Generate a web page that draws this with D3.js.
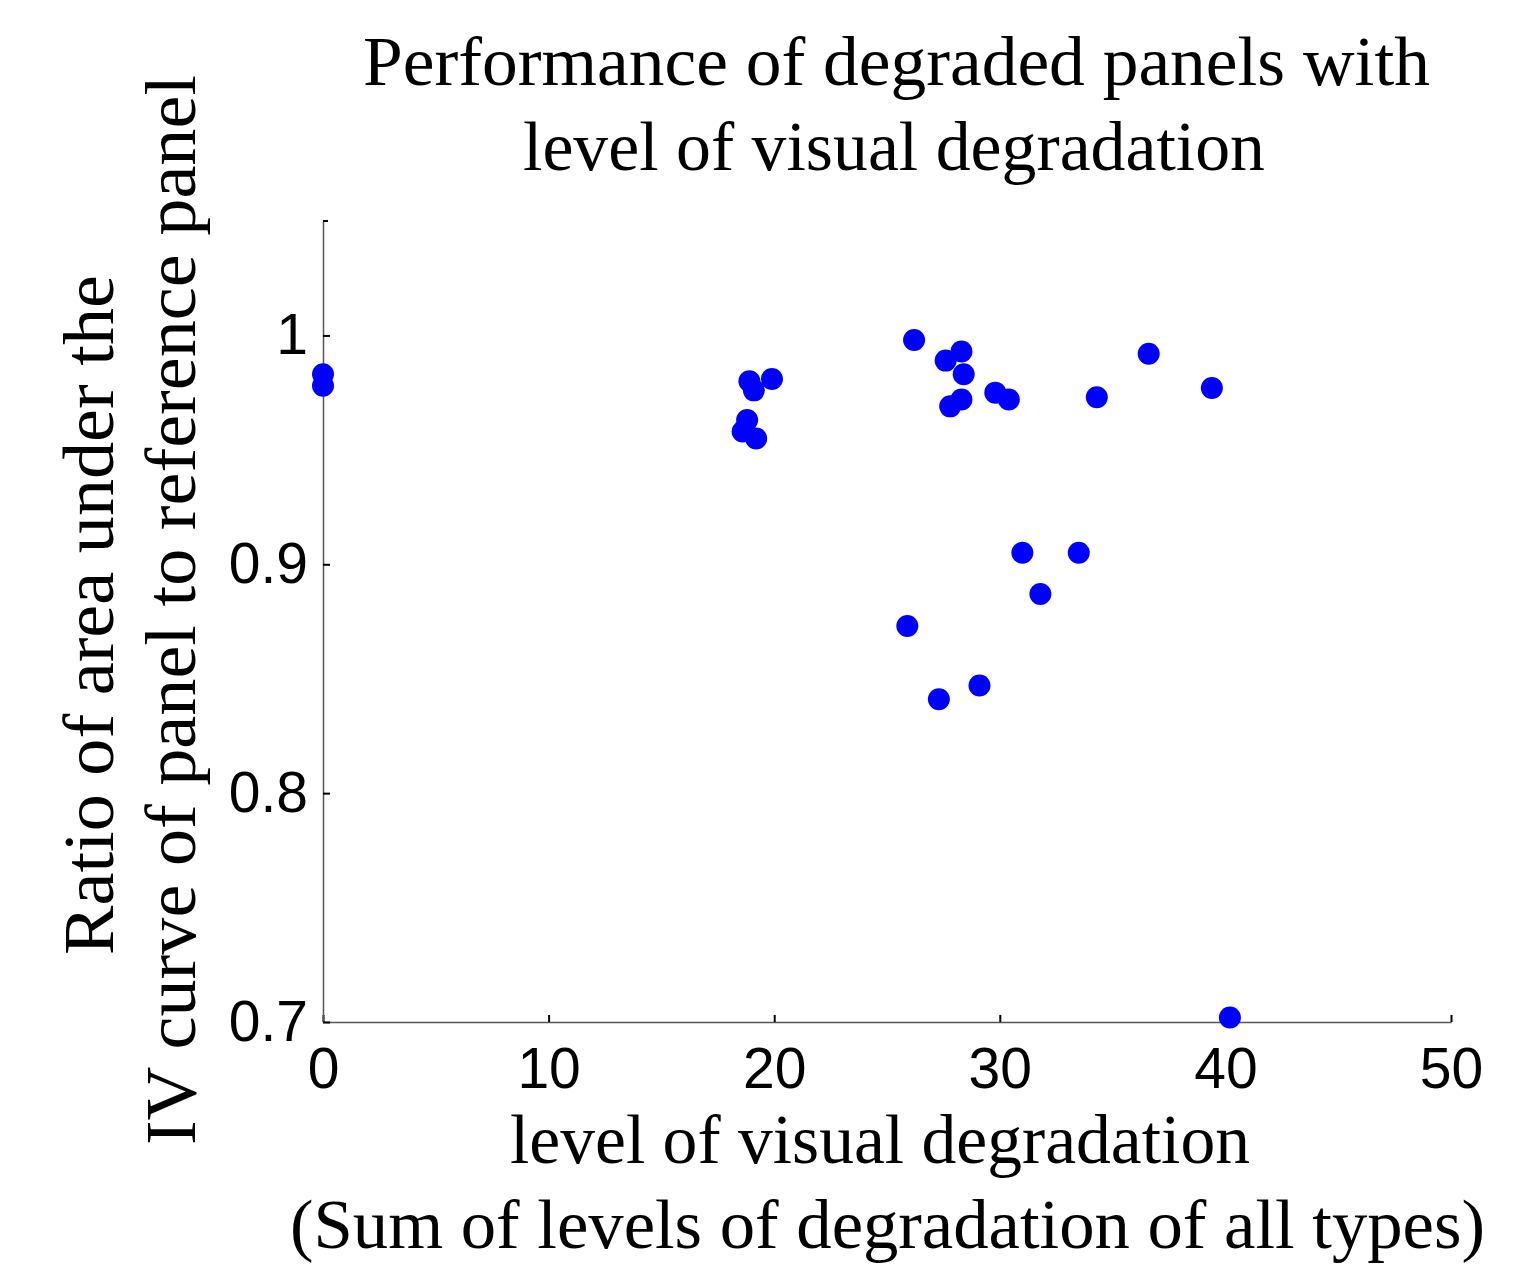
<!DOCTYPE html>
<html>
<head>
<meta charset="utf-8">
<script src="https://cdn.jsdelivr.net/npm/d3@7"></script>
<style>
  html, body { margin: 0; padding: 0; background: #fff; }
  svg { display: block; }
</style>
</head>
<body>
<svg id="chart" width="1540" height="1267"></svg>
<script>
// ---- data ----
const degradationLevel = [0, 0, 18.9, 19.1, 19.9, 18.8, 18.6, 19.2, 26.2, 27.6, 28.3, 28.4, 27.8, 28.3, 29.8, 30.4, 34.3, 36.6, 39.4, 31.0, 33.5, 31.8, 25.9, 27.3, 29.1, 40.2];
const areaRatio       = [0.983, 0.978, 0.980, 0.976, 0.981, 0.963, 0.958, 0.955, 0.998, 0.989, 0.993, 0.983, 0.969, 0.972, 0.975, 0.972, 0.973, 0.992, 0.977, 0.905, 0.905, 0.887, 0.873, 0.841, 0.847, 0.702];
const xTicks = [0, 10, 20, 30, 40, 50];
const yTicks = [0.7, 0.8, 0.9, 1];
const xDomain = [0, 50];
const yDomain = [0.7, 1.05];
const titleLines = ["Performance of degraded panels with", "level of visual degradation"];
const xLabelLines = ["level of visual degradation", "(Sum of levels of degradation of all types)"];
const yLabelLines = ["Ratio of area under the", "IV curve of panel to reference panel"];

// ---- layout ----
const svg = d3.select("#chart");
const plot = { left: 323, right: 1451, top: 221, bottom: 1022 };
const serif = "'Liberation Serif', 'Times New Roman', serif";
const sans = "'Liberation Sans', Arial, sans-serif";

const x = d3.scaleLinear().domain(xDomain).range([plot.left, plot.right]);
const y = d3.scaleLinear().domain(yDomain).range([plot.bottom, plot.top]);

// axes
const xAxis = d3.axisBottom(x).tickValues(xTicks).tickFormat(d3.format("d"))
  .tickSizeInner(-7).tickSizeOuter(0).tickPadding(26);
const yAxis = d3.axisLeft(y).tickValues(yTicks).tickFormat(d => d === 1 ? "1" : d3.format(".1f")(d))
  .tickSizeInner(-7).tickSizeOuter(0).tickPadding(15);

const gx = svg.append("g").attr("transform", `translate(0,${plot.bottom})`).call(xAxis);
const gy = svg.append("g").attr("transform", `translate(${plot.left},0)`).call(yAxis);

[gx, gy].forEach(g => {
  g.select(".domain").attr("stroke", "#555").attr("stroke-width", 1.5);
  g.selectAll(".tick line").attr("stroke", "#000").attr("stroke-width", 2);
  g.selectAll(".tick text").attr("fill", "#000").style("font-family", sans).style("font-size", "57px");
});

// small end tick at the top of the y axis
svg.append("line")
  .attr("x1", plot.left).attr("x2", plot.left + 5)
  .attr("y1", y(yDomain[1])).attr("y2", y(yDomain[1]))
  .attr("stroke", "#000").attr("stroke-width", 2);

// points
const pts = degradationLevel.map((d, i) => ({ x: d, y: areaRatio[i] }));
svg.append("g").selectAll("circle").data(pts).join("circle")
  .attr("cx", d => x(d.x)).attr("cy", d => y(d.y)).attr("r", 11)
  .attr("fill", "#0000ff");

// helper for a single stretched line of serif text
function line(parent, str, xs, ys, len, size) {
  parent.append("text")
    .attr("x", xs).attr("y", ys)
    .attr("textLength", len).attr("lengthAdjust", "spacingAndGlyphs")
    .style("font-family", serif).style("font-size", size + "px").attr("fill", "#000")
    .text(str);
}

// title
const gt = svg.append("g");
line(gt, titleLines[0], 363, 85, 1067, 69);
line(gt, titleLines[1], 523, 170, 742, 69);

// x label
const gxl = svg.append("g");
line(gxl, xLabelLines[0], 510, 1163, 740, 69);
line(gxl, xLabelLines[1], 290, 1248, 1195, 69);

// y label (rotated)
const gyl = svg.append("g").attr("transform", "rotate(-90)");
line(gyl, yLabelLines[0], -955, 113, 680, 72);
line(gyl, yLabelLines[1], -1145, 195, 1070, 72);
</script>
</body>
</html>
